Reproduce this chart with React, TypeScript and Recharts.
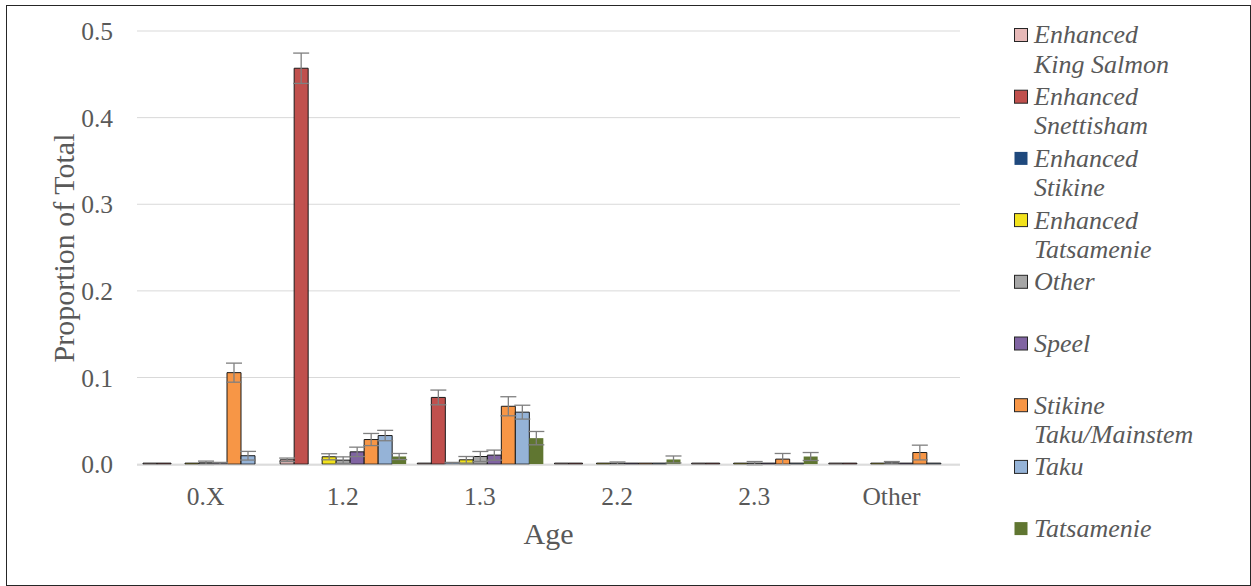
import React from 'react';
import { BarChart, Bar, XAxis, YAxis, CartesianGrid, ErrorBar, Customized } from 'recharts';

const FONT = '"Liberation Serif", "Times New Roman", serif';
const TEXT = '#595959';

const categories = ['0.X', '1.2', '1.3', '2.2', '2.3', 'Other'];

const seriesNames = [
  'Enhanced King Salmon',
  'Enhanced Snettisham',
  'Enhanced Stikine',
  'Enhanced Tatsamenie',
  'Other',
  'Speel',
  'Stikine Taku/Mainstem',
  'Taku',
  'Tatsamenie',
];

const legendLines = [
  ['Enhanced', 'King Salmon'],
  ['Enhanced', 'Snettisham'],
  ['Enhanced', 'Stikine'],
  ['Enhanced', 'Tatsamenie'],
  ['Other'],
  ['Speel'],
  ['Stikine', 'Taku/Mainstem'],
  ['Taku'],
  ['Tatsamenie'],
];

const seriesColors = ['#E6B9B8', '#C0504D', '#1F497D', '#F2E21C', '#A6A6A6', '#8064A2', '#F79646', '#95B3D7', '#607631'];
const seriesBordered = [true, true, false, true, true, true, true, true, false];

const kingSalmon = [0, 0.005, 0, 0, 0, 0];
const kingSalmonErr = [0, 0.002, 0, 0, 0, 0];
const snettisham = [0, 0.457, 0.077, 0, 0, 0];
const snettishamErr = [0, 0.0175, 0.0085, 0, 0, 0];
const enhStikine = [0, 0, 0.001, 0, 0, 0];
const enhStikineErr = [0, 0, 0.001, 0, 0, 0];
const enhTatsamenie = [0, 0.0085, 0.005, 0, 0, 0];
const enhTatsamenieErr = [0, 0.0035, 0.0038, 0, 0, 0];
const other = [0.0015, 0.0046, 0.0088, 0.001, 0.001, 0.0015];
const otherErr = [0.002, 0.0038, 0.0058, 0.0015, 0.002, 0.0015];
const speel = [0.001, 0.0142, 0.0104, 0, 0, 0.0005];
const speelErr = [0.001, 0.0054, 0.0058, 0, 0, 0];
const stikineTaku = [0.1056, 0.0284, 0.0668, 0, 0.0058, 0.0134];
const stikineTakuErr = [0.011, 0.007, 0.011, 0, 0.0065, 0.0085];
const taku = [0.0097, 0.033, 0.06, 0, 0.001, 0.001];
const takuErr = [0.005, 0.006, 0.008, 0, 0, 0];
const tatsamenie = [0, 0.0088, 0.03, 0.0054, 0.0088, 0];
const tatsamenieErr = [0, 0.0035, 0.0077, 0.004, 0.0046, 0];

const yTicks = [0, 0.1, 0.2, 0.3, 0.4, 0.5];

const seriesValues = [kingSalmon, snettisham, enhStikine, enhTatsamenie, other, speel, stikineTaku, taku, tatsamenie];
const seriesErrors = [kingSalmonErr, snettishamErr, enhStikineErr, enhTatsamenieErr, otherErr, speelErr, stikineTakuErr, takuErr, tatsamenieErr];

const data = categories.map((age, i) => {
  const row: Record<string, any> = { age };
  seriesValues.forEach((vals, s) => {
    row[`s${s}`] = vals[i];
    row[`e${s}`] = seriesErrors[s][i];
  });
  return row;
});

const ITEM_H = 61.7;
const LINE_H = 29.3;
const LEGEND_X = 1014;
const LEGEND_Y = 20;

const LegendLayer = () => (
  <g className="chart-legend" transform={`translate(${LEGEND_X}, ${LEGEND_Y})`}>
    {seriesNames.map((name, i) => {
      const top = i * ITEM_H;
      return (
        <g key={name}>
          <rect
            x={0.5}
            y={top + 8.5}
            width={13}
            height={13}
            fill={seriesColors[i]}
            stroke={seriesBordered[i] ? '#262626' : 'none'}
            strokeWidth={1}
          />
          {legendLines[i].map((l, k) => (
            <text
              key={l}
              x={20}
              y={top + 23.4 + k * LINE_H}
              fontFamily={FONT}
              fontStyle="italic"
              fontSize={26}
              fill={TEXT}
            >
              {l}
            </text>
          ))}
        </g>
      );
    })}
  </g>
);

const YTitle = (props: any) => {
  const vb = props.viewBox || { x: 0, y: 0, width: 137, height: 434 };
  const cx = vb.x + 63;
  const cy = vb.y + vb.height / 2;
  return (
    <text x={cx} y={cy} transform={`rotate(-90, ${cx}, ${cy})`} textAnchor="middle" dominantBaseline="central"
      fontFamily={FONT} fontSize={30} fill={TEXT}>
      Proportion of Total
    </text>
  );
};

const XTitle = (props: any) => {
  const vb = props.viewBox || { x: 137, y: 465, width: 823, height: 90 };
  return (
    <text x={vb.x + vb.width / 2} y={vb.y + 79} textAnchor="middle" fontFamily={FONT} fontSize={30} fill={TEXT}>
      Age
    </text>
  );
};

export default function App() {
  return (
    <div style={{ position: 'absolute', left: 0, top: 0, width: 1251, height: 586, background: '#fff' }}>
      <BarChart
        width={1251}
        height={586}
        data={data}
        margin={{ top: 31, right: 291, bottom: 31, left: 0 }}
        barSize={14}
        barGap={0}
      >
        <CartesianGrid vertical={false} stroke="#D9D9D9" />
        <XAxis
          dataKey="age"
          height={90}
          tickLine={false}
          axisLine={{ stroke: '#D9D9D9' }}
          tickMargin={16}
          tick={{ fill: TEXT, fontSize: 25.5, fontFamily: FONT }}
          label={<XTitle />}
        />
        <YAxis
          width={137}
          domain={[0, 0.5]}
          ticks={yTicks}
          interval={0}
          tickFormatter={(v: number) => v.toFixed(1)}
          axisLine={false}
          tickLine={false}
          tickMargin={18}
          tick={{ fill: TEXT, fontSize: 25.5, fontFamily: FONT }}
          label={<YTitle />}
        />
        {seriesNames.map((name, s) => (
          <Bar
            key={name}
            dataKey={`s${s}`}
            name={name}
            fill={seriesColors[s]}
            stroke={seriesBordered[s] ? '#1a1a1a' : 'none'}
            strokeWidth={1}
            minPointSize={seriesBordered[s] ? 1 : 0}
            isAnimationActive={false}
          >
            <ErrorBar dataKey={`e${s}`} width={8} stroke="#7F7F7F" strokeWidth={1.3} direction="y" />
          </Bar>
        ))}
        <Customized component={LegendLayer} />
      </BarChart>
      <div
        style={{
          position: 'absolute',
          left: 6,
          top: 5,
          width: 1245,
          height: 581,
          boxSizing: 'border-box',
          border: '1px solid #262626',
          pointerEvents: 'none',
        }}
      />
    </div>
  );
}
